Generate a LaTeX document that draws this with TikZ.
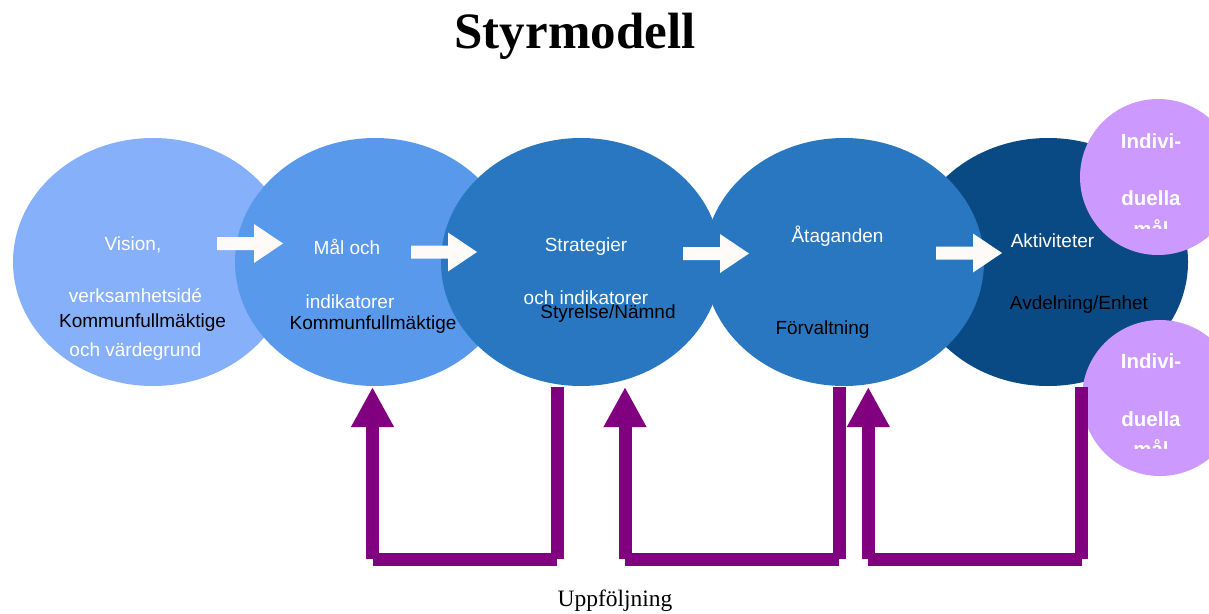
\documentclass[tikz,border=0pt]{standalone}
\usepackage{fontspec}
\setmainfont{Liberation Serif}
\setsansfont{Liberation Sans}
\usetikzlibrary{shapes.geometric,arrows.meta}
\definecolor{visionblue}{HTML}{87B0FB}
\definecolor{malblue}{HTML}{5999EC}
\definecolor{stratblue}{HTML}{2877C0}
\definecolor{aktivblue}{HTML}{0A4A84}
\definecolor{indivpurple}{HTML}{CC99FF}
\definecolor{fbpurple}{HTML}{800080}
\definecolor{arrowwhite}{HTML}{FDFAF7}
\tikzset{
	stage/.style={ellipse,minimum width=280pt,minimum height=248pt,inner sep=0pt},
	wtxt/.style={anchor=base,text=white,font=\sffamily\fontsize{19}{19}\selectfont},
	btxt/.style={wtxt,text=black},
	indiv/.style={circle,fill=indivpurple,minimum size=156pt,inner sep=0pt},
	itxt/.style={anchor=base,text=white,font=\sffamily\bfseries\fontsize{20.5}{20.5}\selectfont},
	fbar/.style={draw=fbpurple,line width=13pt},
}
\begin{document}
\begin{tikzpicture}[x=1pt,y=-1pt]
	\useasboundingbox (0,0) rectangle (1209,613);
	\node[anchor=base,font=\bfseries\fontsize{51}{51}\selectfont] (title) at (575,48) {Styrmodell};
	% the five stages
	\node[stage,fill=visionblue] (vision) at (153,262) {};
	\node[stage,fill=malblue] (mal) at (375,262) {};
	\node[stage,fill=stratblue] (strat) at (581,262) {};
	\node[stage,fill=aktivblue] (aktiv) at (1048,262) {};
	\node[stage,fill=stratblue] (atag) at (844,262) {};
	\node[indiv] (ind1) at (1158,177) {};
	\node[indiv] (ind2) at (1160,398) {};
	\node[wtxt] (t1a) at (133,250) {Vision,};
	\node[wtxt] (t1b) at (135.5,302) {verksamhetsidé};
	\node[btxt] (t1c) at (142.5,327) {Kommunfullmäktige};
	\node[wtxt] (t1d) at (135.5,356) {och värdegrund};
	\node[wtxt] (t2a) at (347,254) {Mål och};
	\node[wtxt] (t2b) at (350,308) {indikatorer};
	\node[btxt] (t2c) at (373,329) {Kommunfullmäktige};
	\node[wtxt] (t3a) at (586,251) {Strategier};
	\node[wtxt] (t3b) at (586,304) {och indikatorer};
	\node[btxt] (t3c) at (608,318) {Styrelse/Nämnd};
	\node[wtxt] (t4a) at (837.5,242) {Åtaganden};
	\node[btxt] (t4b) at (822.5,334) {Förvaltning};
	\node[wtxt] (t5a) at (1052.5,247) {Aktiviteter};
	\node[btxt] (t5b) at (1079,309) {Avdelning/Enhet};
	\begin{scope}
		\clip (1078,97) rectangle (1209,228);
		\node[itxt] (ind1a) at (1151,148) {Indivi-};
		\node[itxt] (ind1b) at (1151,205) {duella};
		\node[itxt] (ind1c) at (1151,236) {mål};
	\end{scope}
	\begin{scope}
		\clip (1078,318) rectangle (1209,448);
		\node[itxt] (ind2a) at (1151,368) {Indivi-};
		\node[itxt] (ind2b) at (1151,426) {duella};
		\node[itxt] (ind2c) at (1151,456) {mål};
	\end{scope}
	% white block arrows
	\foreach \sx/\cy in {217/243.5,411/252,683/253.5,936/253}
		\fill[arrowwhite] (\sx,\cy-6.5) -- ++(37,0) -- ++(0,-13) -- (\sx+66,\cy) -- (\sx+37,\cy+19.5) -- ++(0,-13) -- (\sx,\cy+6.5) -- cycle;
	% Uppföljning loops
	\coordinate (base) at (0,559);
	\foreach \l/\r [count=\i] in {372.5/557,625/839,868.3/1081.7}{
		\coordinate (up\i) at (\l,387);
		\coordinate (dn\i) at (\r,387);
		\draw[fbar] (dn\i) -- (dn\i |- base);
		\draw[fbar] (dn\i |- base) -- (up\i |- base);
		\draw[fbar,-{Triangle[length=40pt,width=40pt]}] (up\i |- base) -- (up\i);
	}
	\node[anchor=base,font=\fontsize{23.5}{23.5}\selectfont] (uppf) at (615,606) {Uppföljning};
\end{tikzpicture}
\end{document}
